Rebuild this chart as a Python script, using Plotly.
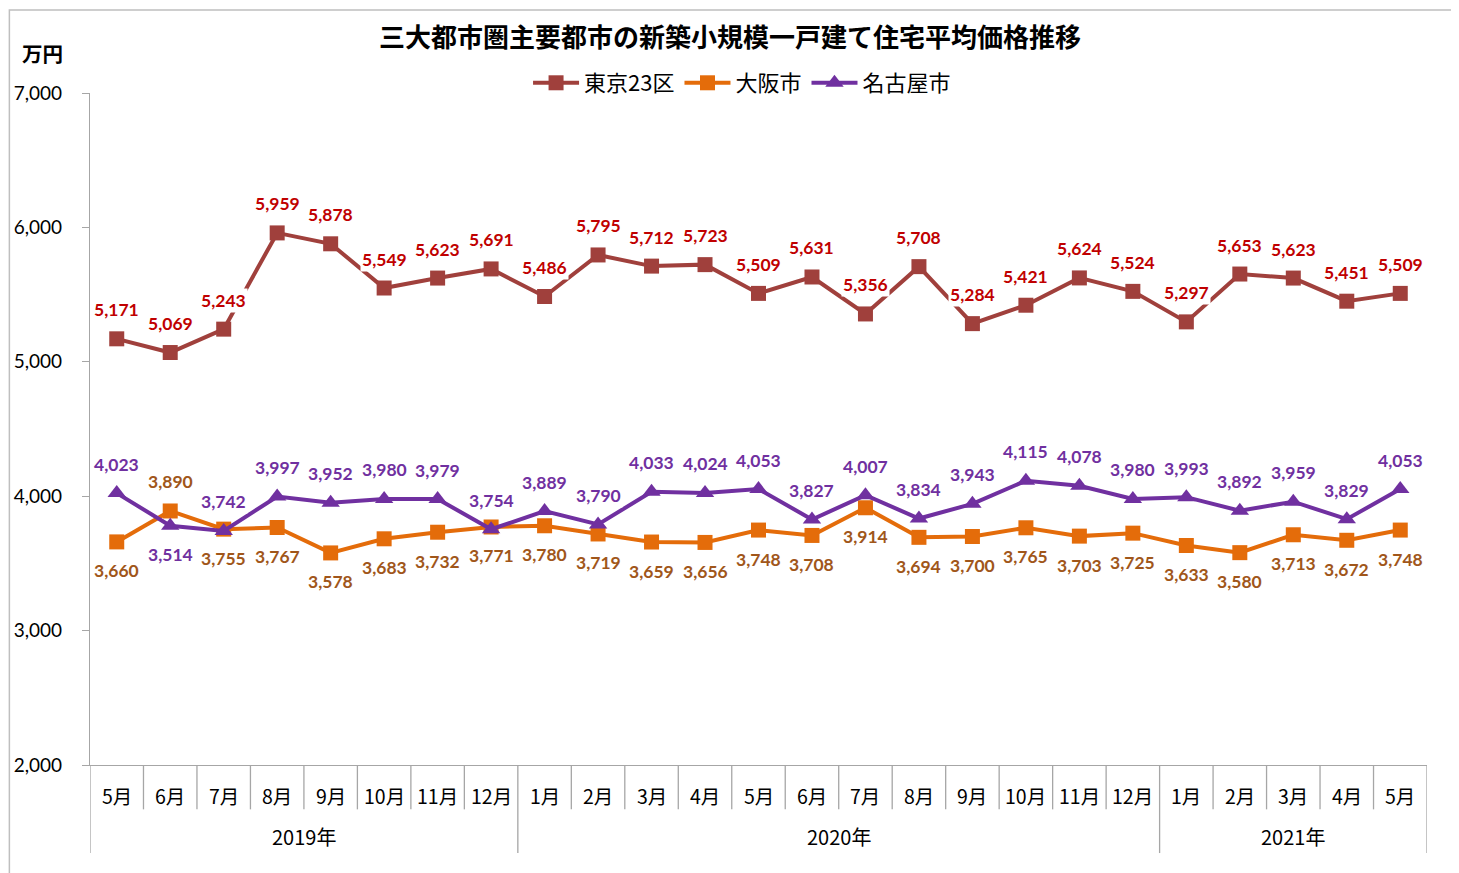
import plotly.graph_objects as go

months = ["5月", "6月", "7月", "8月", "9月", "10月", "11月", "12月",
          "1月", "2月", "3月", "4月", "5月", "6月", "7月", "8月", "9月", "10月", "11月", "12月",
          "1月", "2月", "3月", "4月", "5月"]
years = ["2019年", "2020年", "2021年"]
year_spans = [(0, 7), (8, 19), (20, 24)]

tokyo = [5171, 5069, 5243, 5959, 5878, 5549, 5623, 5691, 5486, 5795, 5712, 5723, 5509,
         5631, 5356, 5708, 5284, 5421, 5624, 5524, 5297, 5653, 5623, 5451, 5509]
osaka = [3660, 3890, 3755, 3767, 3578, 3683, 3732, 3771, 3780, 3719, 3659, 3656, 3748,
         3708, 3914, 3694, 3700, 3765, 3703, 3725, 3633, 3580, 3713, 3672, 3748]
nagoya = [4023, 3780, 3742, 3997, 3952, 3980, 3979, 3754, 3889, 3790, 4033, 4024, 4053,
          3827, 4007, 3834, 3943, 4115, 4078, 3980, 3993, 3892, 3959, 3829, 4053]
# label text as printed in the source (June 2019 Nagoya label reads 3,514)
nagoya_labels = [f"{v:,}" for v in nagoya]
nagoya_labels[1] = "3,514"

# label side: +1 above, -1 below
osaka_side = [-1] * 25
osaka_side[1] = 1
nagoya_side = [1] * 25
nagoya_side[1] = -1

x = list(range(len(months)))

JP = "Noto Sans CJK JP"
NUM = "Lato"
C_TOKYO_LINE = "#A0403C"
C_TOKYO_TXT = "#C00000"
C_OSAKA_LINE = "#E46C0A"
C_OSAKA_TXT = "#A0561A"
C_NAGOYA = "#7030A0"

fig = go.Figure()
fig.add_trace(go.Scatter(x=x, y=tokyo, name="東京23区", mode="lines+markers",
                         line=dict(color=C_TOKYO_LINE, width=4),
                         marker=dict(symbol="square", size=15, color=C_TOKYO_LINE)))
fig.add_trace(go.Scatter(x=x, y=osaka, name="大阪市", mode="lines+markers",
                         line=dict(color=C_OSAKA_LINE, width=4),
                         marker=dict(symbol="square", size=15, color=C_OSAKA_LINE)))
fig.add_trace(go.Scatter(x=x, y=nagoya, name="名古屋市", mode="lines+markers",
                         line=dict(color=C_NAGOYA, width=4),
                         marker=dict(symbol="triangle-up", size=16, color=C_NAGOYA)))

ann = []
def lab(xi, yv, text, color, side):
    ann.append(dict(x=xi, y=yv, xref="x", yref="y", text=text, showarrow=False,
                    yshift=29 * side, bgcolor="white", borderpad=1,
                    font=dict(family=NUM, size=17.5, color=color, weight="bold")))

for i in x:
    lab(i, tokyo[i], f"{tokyo[i]:,}", C_TOKYO_TXT, 1)
for i in x:
    lab(i, osaka[i], f"{osaka[i]:,}", C_OSAKA_TXT, osaka_side[i])
for i in x:
    lab(i, nagoya[i], nagoya_labels[i], C_NAGOYA, nagoya_side[i])

# month labels
for i, m in enumerate(months):
    ann.append(dict(x=i, y=-0.045, xref="x", yref="paper", text=m, showarrow=False,
                    xanchor="center", yanchor="middle",
                    font=dict(family=JP, size=19.5, color="#000")))
for (a, b), yl in zip(year_spans, years):
    ann.append(dict(x=(a + b) / 2, y=-0.107, xref="x", yref="paper", text=yl, showarrow=False,
                    xanchor="center", yanchor="middle",
                    font=dict(family=JP, size=20, color="#000")))

ann.append(dict(x=-0.0359, y=1.0595, xref="paper", yref="paper", text="万円", showarrow=False,
                xanchor="center", yanchor="middle",
                font=dict(family=JP, size=20.5, color="#000", weight="bold")))

shapes = []
gray = "#A6A6A6"
boundaries = {-0.5, 7.5, 19.5, 24.5}
for k in range(26):
    xb = k - 0.5
    y1 = -0.131 if xb in boundaries else -0.066
    shapes.append(dict(type="line", xref="x", yref="paper", x0=xb, x1=xb, y0=0, y1=y1,
                       line=dict(color=gray, width=1.3)))
# outer border
shapes.append(dict(type="path", xref="paper", yref="paper",
                   path="M -0.0603,-0.17 L -0.0603,1.1235 L 1.0187,1.1235 L 1.0187,-0.17",
                   line=dict(color="#BFBFBF", width=1.5)))

fig.update_layout(
    width=1459, height=873,
    margin=dict(l=82, r=40, t=85, b=116, autoexpand=False),
    paper_bgcolor="white", plot_bgcolor="white",
    title=dict(text="三大都市圏主要都市の新築小規模一戸建て住宅平均価格推移",
               x=(730 - 8) / 1459, xanchor="center", y=1 - 30 / 873, yanchor="middle",
               xref="container", yref="container",
               font=dict(family=JP, size=26, color="#000", weight="bold")),
    legend=dict(orientation="h", x=0.4877, xanchor="center", y=1.0149, yanchor="middle",
                font=dict(family=JP, size=22, color="#000"), itemwidth=46,
                bgcolor="rgba(0,0,0,0)"),
    xaxis=dict(range=[-0.5, 24.5], showticklabels=False, ticks="", showgrid=False,
               zeroline=False, showline=True, linecolor=gray, linewidth=1.3, fixedrange=True),
    yaxis=dict(range=[2000, 7000], tickvals=[2000, 3000, 4000, 5000, 6000, 7000],
               tickformat=",", showgrid=False, zeroline=False, showline=True,
               linecolor=gray, linewidth=1.3, ticks="outside", ticklen=7, tickcolor=gray,
               tickfont=dict(family=NUM, size=19, color="#000"), ticklabelstandoff=16),
    annotations=ann, shapes=shapes, showlegend=True,
)

fig.write_html("out.html")
